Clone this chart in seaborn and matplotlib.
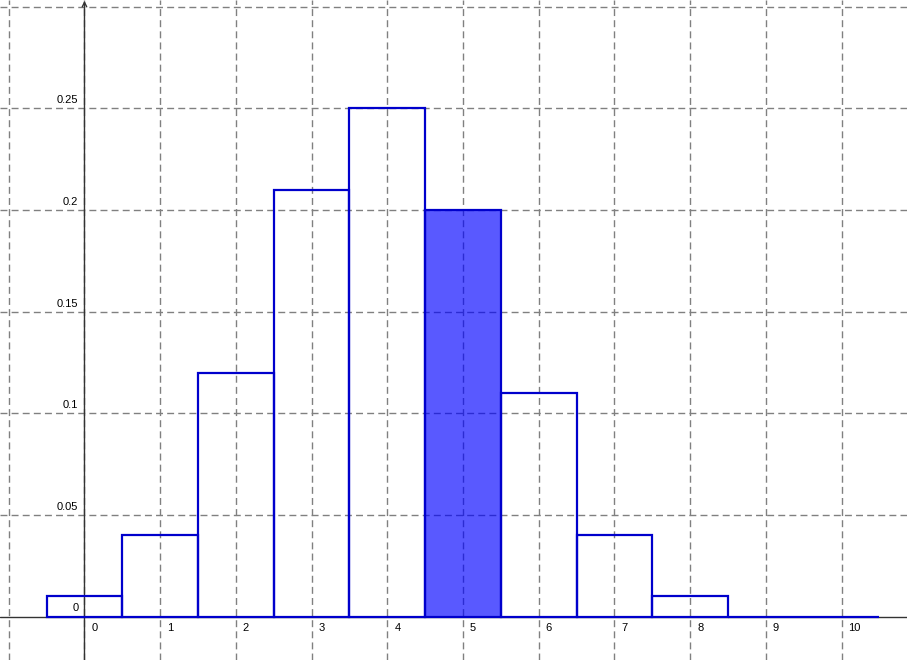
import matplotlib
matplotlib.use('Agg')
import matplotlib.pyplot as plt
import seaborn as sns

# Probability distribution (GeoGebra style), bar at k=5 highlighted
ks = [0, 1, 2, 3, 4, 5, 6, 7, 8, 9, 10]
probs = [0.01, 0.04, 0.12, 0.21, 0.25, 0.20, 0.11, 0.04, 0.01, 0.0, 0.0]
highlight = 5

x_ticks = [0, 1, 2, 3, 4, 5, 6, 7, 8, 9, 10]
y_ticks = [0.05, 0.1, 0.15, 0.2, 0.25]
y_labels = ['0.05', '0.1', '0.15', '0.2', '0.25']

sns.set_style("white")
plt.rcParams['font.family'] = ['Liberation Sans', 'DejaVu Sans']

fig = plt.figure(figsize=(9.07, 6.6), dpi=100)
ax = fig.add_axes([0, 0, 1, 1])

# grid
for gx in range(-1, 12):
    ax.axvline(gx, color='#808080', lw=1, ls=(0, (5, 3)), zorder=0)
for gy in [0.05, 0.1, 0.15, 0.2, 0.25, 0.3]:
    ax.axhline(gy, color='#808080', lw=1, ls=(0, (5, 3)), zorder=0)

# axes
ax.axhline(0, color='#333333', lw=1, zorder=1)
ax.annotate('', xy=(0, 0.3028), xytext=(0, -0.03),
            arrowprops=dict(arrowstyle='->', lw=1, color='#333333',
                            mutation_scale=8, shrinkA=0, shrinkB=0),
            annotation_clip=False, zorder=1)

sns.barplot(x=ks, y=probs, native_scale=True, width=1, errorbar=None,
            color='white', edgecolor='#0000cc', linewidth=1.6, ax=ax,
            zorder=2)
for i, p in enumerate(ax.patches):
    p.set_facecolor((0, 0, 1, 0.65) if ks[i] == highlight else 'none')

# tick labels
for t in x_ticks:
    ax.annotate(str(t), xy=(t, 0), xytext=(7, -6), textcoords='offset pixels',
                ha='left', va='top', fontsize=8, color='black')
for t, lab in zip(y_ticks, y_labels):
    ax.annotate(lab, xy=(0, t), xytext=(-6, 3), textcoords='offset pixels',
                ha='right', va='bottom', fontsize=8, color='black')
ax.annotate('0', xy=(0, 0), xytext=(-6, 4), textcoords='offset pixels',
            ha='right', va='bottom', fontsize=8, color='black')

ax.set_xlim(-1.116, 10.865)
ax.set_ylim(-0.0213, 0.3032)
ax.set_xticks([])
ax.set_yticks([])
ax.set_xlabel('')
ax.set_ylabel('')
for s in ax.spines.values():
    s.set_visible(False)

fig.savefig('out.png', dpi=100)
